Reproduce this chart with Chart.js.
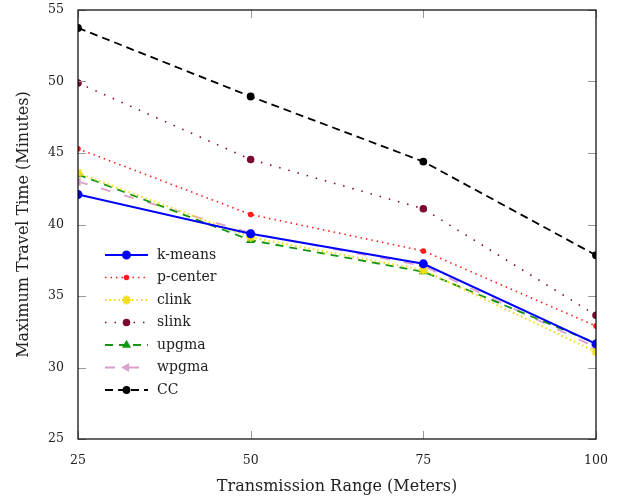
<!DOCTYPE html>
<html lang="en">
  <head>
    <meta charset="UTF-8" />
    <title>Maximum Travel Time</title>
    <script src="https://cdn.jsdelivr.net/npm/chart.js"></script>
    <style>
      body { margin: 0; background: #fff; }
      .chart-wrapper { position: relative; width: 623px; height: 500px; }
    </style>
  </head>
  <body>
    <div class="chart-wrapper">
      <canvas id="travelChart" width="623" height="500"></canvas>
    </div>
    <script>
      // transmission range (x) and series values
      const ranges = [25, 50, 75, 100];
      const kmeans = [42.1, 39.35, 37.25, 31.65];
      const pcenter = [45.3, 40.7, 38.15, 32.9];
      const clink = [43.6, 39.1, 36.8, 31.1];
      const slink = [49.9, 44.55, 41.1, 33.65];
      const upgma = [43.5, 38.9, 36.7, 31.7];
      const wpgma = [43.0, 39.4, 37.1, 31.4];
      const cc = [53.75, 48.95, 44.4, 37.85];
      const yTicks = [25, 30, 35, 40, 45, 50, 55];

      const FONT = "'DejaVu Serif', 'Liberation Serif', serif";

      function pts(vals) {
        return ranges.map((r, i) => ({ x: r, y: vals[i] }));
      }

      function series(label, vals, color, dash, style, radius, width) {
        return {
          label: label,
          data: pts(vals),
          borderColor: color,
          backgroundColor: color,
          borderWidth: width || 1.6,
          borderDash: dash,
          pointStyle: style,
          pointRadius: radius,
          pointBorderColor: color,
          pointBackgroundColor: color,
          fill: false,
          tension: 0,
        };
      }

      const datasets = [
        series("k-means", kmeans, "#0000ff", [], "circle", 3.5, 2),
        series("p-center", pcenter, "#ff1a1a", [1.5, 4], "circle", 2),
        series("clink", clink, "#f0dc1a", [1.5, 3], "star", 4.5, 2.2),
        series("slink", slink, "#7a0a2e", [1.5, 8], "circle", 3),
        series("upgma", upgma, "#149614", [8, 6], "triangle", 3.5, 1.8),
        series("wpgma", wpgma, "#dca0cc", [10, 14], "triangle", 3.5, 1.8),
        series("CC", cc, "#000000", [8, 5], "circle", 3, 1.8),
      ];
      datasets[5].pointRotation = -90;

      // inward ticks, frame and in-plot legend
      const framePlugin = {
        id: "frame",
        afterDatasetsDraw(chart) {
          const { ctx, chartArea: a, scales } = chart;
          ctx.save();
          ctx.strokeStyle = "#999";
          ctx.lineWidth = 1;
          ctx.beginPath();
          yTicks.forEach((t) => {
            const y = Math.round(scales.y.getPixelForValue(t)) + 0.5;
            ctx.moveTo(a.left, y); ctx.lineTo(a.left + 8, y);
            ctx.moveTo(a.right, y); ctx.lineTo(a.right - 8, y);
          });
          ranges.forEach((t) => {
            const x = Math.round(scales.x.getPixelForValue(t)) + 0.5;
            ctx.moveTo(x, a.bottom); ctx.lineTo(x, a.bottom - 8);
            ctx.moveTo(x, a.top); ctx.lineTo(x, a.top + 8);
          });
          ctx.stroke();
          ctx.strokeStyle = "#000";
          ctx.lineWidth = 1.2;
          ctx.strokeRect(a.left, a.top, a.right - a.left, a.bottom - a.top);
          ctx.restore();
        },
        afterDraw(chart) {
          const { ctx } = chart;
          ctx.save();
          ctx.font = "14px " + FONT;
          ctx.textBaseline = "middle";
          const x0 = 105, x1 = 148, y0 = 255, step = 22.5;
          chart.data.datasets.forEach((ds, i) => {
            const y = y0 + i * step;
            ctx.strokeStyle = ds.borderColor;
            ctx.lineWidth = ds.borderWidth;
            ctx.setLineDash(ds.borderDash);
            ctx.beginPath();
            ctx.moveTo(x0, y);
            ctx.lineTo(x1, y);
            ctx.stroke();
            ctx.setLineDash([]);
            ctx.fillStyle = ds.borderColor;
            Chart.helpers.drawPoint(ctx, {
              pointStyle: ds.pointStyle,
              radius: ds.pointRadius,
              rotation: ds.pointRotation || 0,
              borderWidth: 1,
            }, (x0 + x1) / 2, y);
            ctx.fillStyle = "#222";
            ctx.fillText(ds.label, 157, y);
          });
          ctx.restore();
        },
      };

      new Chart(document.getElementById("travelChart").getContext("2d"), {
        type: "line",
        data: { datasets: datasets },
        options: {
          responsive: false,
          animation: false,
          layout: { padding: { top: 10, right: 27, left: 0, bottom: 0 } },
          plugins: { legend: { display: false }, tooltip: { enabled: false } },
          scales: {
            x: {
              type: "linear",
              min: 25,
              max: 100,
              afterFit(s) { s.height = 61; s.paddingLeft = 0; s.paddingRight = 0; },
              afterBuildTicks(s) { s.ticks = ranges.map((v) => ({ value: v })); },
              grid: { display: false },
              border: { display: false },
              ticks: { color: "#222", font: { family: FONT, size: 12.5 }, padding: 6 },
              title: {
                display: true,
                text: "Transmission Range (Meters)",
                color: "#222",
                font: { family: FONT, size: 16 },
                padding: { top: 8 },
              },
            },
            y: {
              min: 25,
              max: 55,
              afterFit(s) { s.width = 78; s.paddingTop = 0; s.paddingBottom = 0; },
              afterBuildTicks(s) { s.ticks = yTicks.map((v) => ({ value: v })); },
              grid: { display: false },
              border: { display: false },
              ticks: { color: "#222", font: { family: FONT, size: 12.5 }, padding: 6 },
              title: {
                display: true,
                text: "Maximum Travel Time (Minutes)",
                color: "#222",
                font: { family: FONT, size: 16 },
                padding: { top: 14, bottom: 4 },
              },
            },
          },
        },
        plugins: [framePlugin],
      });
    </script>
  </body>
</html>
